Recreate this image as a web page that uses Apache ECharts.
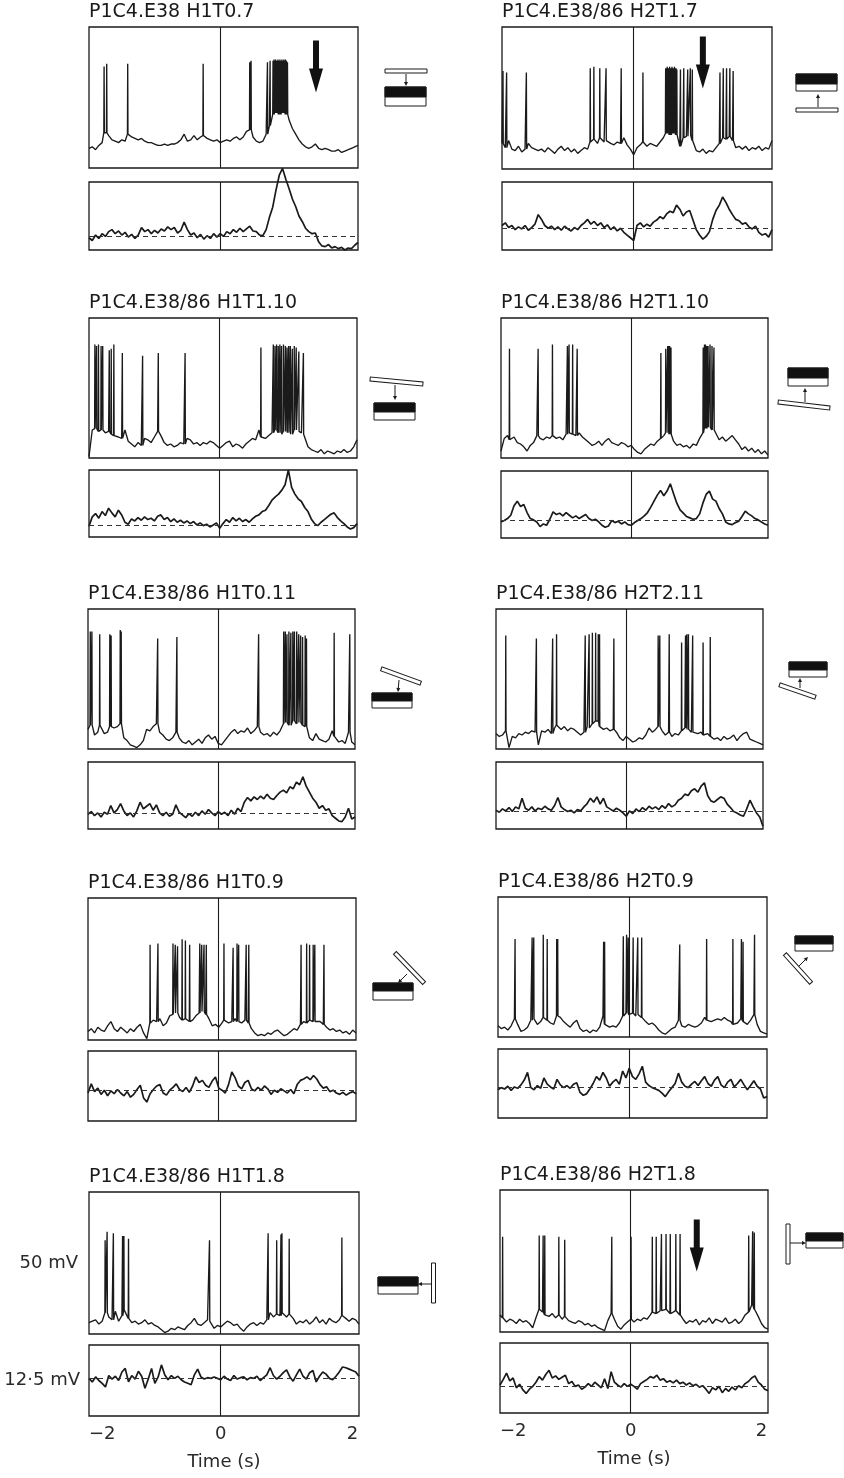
<!DOCTYPE html>
<html><head><meta charset="utf-8">
<script src="https://cdn.jsdelivr.net/npm/echarts@6/dist/echarts.min.js"></script>
<style>html,body{margin:0;padding:0;background:#fff}#c{width:844px;height:1478px}</style>
</head><body><div id="c"></div><script>
// sampling grid of every trace: t = -2 s + i * 0.05 s
const T0 = -2, DT = 0.05;
const xTicks = [-2, 0, 2];
const xTickLabels = ['\u22122', '0', '2'];
const axisTitle = 'Time (s)';
const scaleUpper = '50 mV';
const scaleLower = '12\u00b75 mV';

const titles = ['P1C4.E38 H1T0.7','P1C4.E38/86 H2T1.7','P1C4.E38/86 H1T1.10','P1C4.E38/86 H2T1.10',
  'P1C4.E38/86 H1T0.11','P1C4.E38/86 H2T2.11','P1C4.E38/86 H1T0.9','P1C4.E38/86 H2T0.9',
  'P1C4.E38/86 H1T1.8','P1C4.E38/86 H2T1.8'];

// ---- Panel A (H1T0.7)
const aUp = [14,15,13,16,18,25,23,20,19,18, 20,19,24,22,21,20,21,19,18,18, 17,16,16,17,16,17,17,18,20,24,
  19,20,23,20,22,23,21,20,19,20, 18,19,20,19,21,22,20,22,26,27, 22,19,18,19,24,30,38,39,38,39,
  38,34,28,24,20,17,15,14,15,17, 14,13,14,13,12,12,13,11,12,13, 14,15,16];
const aSp = [[-1.77,72],[-1.73,74],[-1.41,74],[-0.26,74],[0.45,75],[0.47,76],[0.72,75],[0.76,76],
  [0.805,76],[0.82,77],[0.835,76],[0.845,77],[0.865,76],[0.88,77],[0.895,76],[0.91,77],[0.925,76],
  [0.94,77],[0.955,76],[0.97,77],[0.985,76],[0.995,77],[1.01,76],[1.025,75]];
const aLo = [18,14,22,17,24,20,27,30,24,28, 22,26,19,23,17,22,33,27,30,24, 29,25,31,28,34,30,33,25,29,41,
  30,22,25,18,23,16,21,17,24,19, 24,20,27,24,30,26,32,27,31,35, 28,27,22,21,30,48,63,88,110,120,
  104,90,75,64,50,42,32,27,24,25, 12,6,5,8,3,5,2,4,0,3, 2,7,11];
const aBase = 20;

// ---- Panel B (H2T1.7)
const bUp = [18,15,20,14,13,16,12,14,18,15, 14,13,14,12,15,13,11,14,16,13, 15,12,14,11,13,15,14,19,21,18,
  22,19,20,18,17,19,18,22,17,14, 10,15,17,19,16,18,17,16,19,22, 25,24,25,24,16,22,23,24,20,13,
  12,14,11,13,12,15,18,22,21,23, 20,15,16,14,16,13,15,14,16,13, 15,14,20];
const bSp = [[-1.985,69],[-1.93,68],[-1.63,68],[-0.66,71],[-0.605,72],[-0.515,71],[-0.42,71],[-0.19,71],[0.14,68],
  [0.485,71],[0.497,71],[0.509,72],[0.521,71],[0.533,71],[0.545,72],[0.557,71],[0.569,71],[0.581,72],[0.593,71],
  [0.607,71],[0.619,72],[0.631,71],[0.643,71],[0.655,70],[0.71,70],[0.76,71],[0.82,70],[0.86,71],[0.89,70],
  [1.31,68],[1.36,71],[1.41,71],[1.46,71],[1.51,69]];
const bLo = [36,40,33,36,30,34,31,36,29,33, 38,52,45,36,32,35,30,34,29,35, 31,28,33,30,36,40,45,38,42,36,
  40,33,37,30,34,28,32,26,22,18, 14,36,40,34,38,35,41,44,49,46, 53,57,55,66,60,50,56,58,44,30,
  22,16,20,27,45,58,66,78,70,60, 52,45,43,38,40,34,31,35,26,22, 24,19,30];
const bBase = 32;

// ---- Panel C (H1T1.10)
const cUp = [1,20,21,19,20,18,19,17,16,15, 14,20,12,10,8,11,9,14,13,11, 15,19,16,11,9,10,8,9,11,10,
  14,13,10,11,9,11,10,12,11,9, 7,9,11,12,8,10,9,7,10,12, 14,13,20,15,14,16,18,20,18,17,
  19,18,17,20,19,18,17,8,6,5, 4,6,3,5,4,3,5,4,6,4, 5,8,13];
const cSp = [[-1.91,81],[-1.885,80],[-1.855,81],[-1.815,80],[-1.79,80],[-1.69,77],[-1.66,78],[-1.62,81],
  [-1.49,75],[-1.18,73],[-0.94,75],[-0.53,75],[0.63,79],[0.82,81],[0.845,80],[0.87,81],[0.895,80],[0.92,81],
  [0.945,80],[0.975,81],[1.005,80],[1.03,79],[1.055,80],[1.08,80],[1.11,78],[1.14,80],[1.17,79],[1.21,76],[1.28,75]];
const cLo = [16,30,35,28,38,32,43,36,30,40, 33,22,19,27,24,29,25,30,26,28, 24,31,33,26,29,23,27,22,25,21,
  24,20,23,18,21,17,19,15,18,21, 13,20,26,22,29,24,28,23,26,22, 27,31,33,38,40,47,55,60,64,70,
  78,100,74,64,57,53,44,38,27,20, 17,22,26,30,34,36,29,24,20,15, 12,14,20];
const cBase = 18;

// ---- Panel D (H2T1.10)
const dUp = [5,14,16,13,15,11,10,8,5,9, 11,16,14,13,15,14,16,14,15,13, 17,18,17,16,18,15,13,11,9,10,
  12,9,12,14,11,10,9,11,10,8, 9,6,4,3,6,8,10,9,12,14, 16,18,17,12,9,10,8,9,7,10,
  9,14,18,21,22,20,19,13,15,12, 14,16,13,10,6,8,5,7,4,6, 3,5,2];
const dSp = [[-1.87,78],[-1.43,78],[-1.21,81],[-0.98,80],[-0.955,81],[-0.9,81],[-0.83,78],[0.455,75],[0.53,78],
  [0.56,80],[0.575,80],[0.59,80],[0.61,79],[1.105,79],[1.125,81],[1.14,81],[1.16,80],[1.18,80],[1.21,81],[1.24,80],[1.27,79]];
const dLo = [24,26,29,34,48,55,47,50,38,29, 27,24,17,21,19,28,39,35,37,33, 38,34,30,33,29,32,35,29,26,28,
  24,19,16,18,26,23,25,21,24,20, 19,23,26,29,33,38,46,55,64,71, 63,70,81,66,52,42,37,32,30,28,
  29,36,52,65,70,58,55,44,36,24, 21,20,23,25,32,40,36,33,29,27, 24,21,19];
const dBase = 27;

// ---- Panel E (H1T0.11)
const eUp = [14,17,10,12,17,11,12,16,15,16, 18,8,6,3,2,1,3,6,14,13, 16,18,12,10,7,6,8,12,8,5,
  4,6,3,5,7,4,8,10,7,9, 4,3,6,9,12,14,11,13,12,15, 11,13,16,12,10,11,9,12,10,13,
  18,19,17,20,18,19,17,16,8,6, 11,7,6,5,7,13,9,5,6,4, 12,5,3];
const eSp = [[-1.965,84],[-1.94,84],[-1.82,82],[-1.665,82],[-1.645,81],[-1.505,85],[-1.49,84],[-0.93,79],[-0.635,80],
  [0.62,82],[1.005,84],[1.03,84],[1.055,82],[1.085,84],[1.115,83],[1.145,84],[1.17,84],[1.205,84],[1.235,82],
  [1.265,81],[1.295,80],[1.335,81],[1.355,79],[1.78,83],[2.02,82]];
const eLo = [22,26,20,24,18,25,22,35,24,29, 38,27,20,24,18,27,40,30,34,38, 28,36,24,20,25,19,22,36,25,21,
  17,23,19,25,20,27,22,29,24,20, 26,22,25,20,28,22,31,26,40,47, 42,48,44,49,45,52,46,44,50,55,
  58,54,63,60,70,66,78,64,55,46, 40,31,35,28,30,20,16,12,11,18, 31,15,18];
const eBase = 24;

// ---- Panel F (H2T2.11)
const fUp = [11,9,10,13,1,9,8,11,10,12, 11,13,12,3,13,12,14,11,15,17, 14,16,13,15,14,12,10,12,16,15,
  18,20,16,14,15,13,14,12,8,6, 9,7,5,6,8,7,10,15,12,14, 16,13,10,12,9,11,10,13,15,14,
  12,13,11,12,10,11,9,7,8,6, 9,7,8,10,6,9,11,12,7,6, 5,4,3];
const fSp = [[-1.85,81],[-1.38,79],[-1.13,79],[-1.07,82],[-0.63,81],[-0.57,82],[-0.52,83],[-0.47,83],[-0.43,82],
  [-0.41,82],[-0.19,79],[0.49,81],[0.515,81],[0.66,82],[0.85,76],[0.91,81],[0.93,82],[0.955,82],[1.02,81],[1.18,76],[1.29,80]];
const fLo = [28,25,30,27,32,26,33,30,46,31, 28,33,27,31,29,34,30,28,35,47, 33,29,26,28,24,29,27,33,38,46,
  40,48,37,46,33,30,27,31,28,24, 19,27,23,30,26,32,28,34,30,33, 29,35,31,38,33,36,43,46,52,50,
  57,60,55,64,69,50,42,40,44,48, 46,37,32,26,24,21,19,30,43,33, 24,18,4];
const fBase = 26;

// ---- Panel G (H1T0.9)
const gUp = [6,8,5,9,7,6,10,13,8,6, 9,7,5,8,6,9,11,5,1,12, 14,13,15,10,12,17,18,19,16,14,
  15,13,14,17,19,20,18,15,10,11, 9,12,14,12,13,15,13,12,14,12, 8,5,3,4,3,5,4,6,7,5,
  3,4,6,8,7,11,13,12,14,13, 12,13,11,9,7,8,6,7,5,6, 4,7,5];
const gSp = [[-1.05,67],[-0.93,68],[-0.7,68],[-0.665,67],[-0.63,66],[-0.56,71],[-0.51,70],[-0.445,67],[-0.29,68],
  [-0.26,67],[-0.225,67],[-0.19,67],[0.08,68],[0.22,65],[0.28,68],[0.305,67],[0.42,67],[0.46,67],[1.26,67],
  [1.345,68],[1.39,67],[1.445,67],[1.47,67],[1.61,67]];
const gLo = [40,53,42,47,38,44,36,43,39,45, 40,36,42,34,38,45,51,33,27,39, 45,50,52,40,37,44,48,53,45,42,
  48,41,50,63,55,58,51,48,57,63, 47,44,40,52,70,62,50,46,55,58, 46,43,48,44,50,46,38,44,41,46,
  43,40,45,39,52,58,60,63,59,65, 60,52,47,49,42,44,40,38,41,37, 40,42,39];
const gBase = 44;

// ---- Panel H (H2T0.9)
const hUp = [8,6,7,5,8,13,9,4,5,7, 12,13,9,11,14,12,10,9,15,14, 11,9,7,10,12,6,4,5,3,5,
  4,7,15,9,7,8,7,10,15,17, 16,17,15,16,14,11,9,10,8,5, 3,2,4,6,7,12,8,7,9,8,
  7,8,10,14,12,11,12,13,12,14, 12,11,9,10,13,11,9,12,16,9, 4,3,2];
const hSp = [[-1.74,70],[-1.48,71],[-1.455,71],[-1.31,73],[-1.25,70],[-1.105,70],[-1.09,70],[-0.39,68],[-0.375,68],
  [-0.09,72],[-0.04,73],[-0.015,71],[0.06,71],[0.13,71],[0.19,71],[0.77,66],[1.18,70],[1.58,70],[1.71,70],[1.735,68],[1.91,73]];
const hLo = [41,44,42,46,40,45,43,48,55,66, 44,41,47,43,58,49,45,42,56,48, 44,47,43,49,51,37,33,35,42,50,
  60,55,66,58,46,52,56,49,68,58, 72,60,56,64,75,52,47,44,42,40, 36,31,38,44,50,65,52,46,44,49,
  53,47,54,60,50,46,55,60,48,44, 52,56,45,50,56,48,41,47,54,46, 42,29,31];
const hBase = 45;

// ---- Panel I (H1T1.8)
const iUp = [8,9,10,7,9,15,12,10,16,9, 13,17,11,8,9,7,8,10,7,8, 6,5,3,1,2,4,3,5,4,3,
  6,8,11,7,6,8,10,9,4,6, 5,7,9,8,6,7,4,2,5,7, 8,6,8,7,10,15,12,14,13,15,
  12,14,11,7,9,8,10,7,9,12, 8,10,7,11,9,8,10,13,11,9, 11,10,7];
const iSp = [[-1.755,66],[-1.725,72],[-1.63,71],[-1.49,69],[-1.47,69],[-1.4,67],[-0.17,66],[0.72,71],[0.85,66],
  [0.915,70],[0.93,71],[1.04,67],[1.84,68]];
const iLo = [53,48,55,50,46,41,57,52,56,50, 62,67,48,57,52,63,56,39,52,67, 46,55,72,58,51,57,53,56,51,48,
  46,44,58,66,55,52,54,53,55,53, 51,56,52,50,57,52,54,55,51,54, 53,56,50,54,58,68,57,52,56,61,
  65,55,49,58,66,56,52,61,64,48, 56,62,59,53,51,56,62,69,68,66, 64,62,56];
const iBase = 53;

// ---- Panel J (H2T1.8)
const jUp = [12,10,7,9,8,6,9,7,8,6, 3,10,16,14,12,11,13,10,12,9, 11,8,7,6,8,7,5,6,4,5,
  3,2,1,8,13,9,4,2,5,7, 9,7,9,8,10,9,12,14,13,15, 14,16,13,14,15,12,9,6,8,7,
  9,5,8,7,10,6,9,8,7,10, 6,7,9,6,8,12,14,19,16,11, 6,3,2];
const jSp = [[-1.96,67],[-1.4,68],[-1.34,68],[-1.315,68],[-1.1,67],[-1.01,65],[-0.29,67],[0.005,67],[0.33,67],
  [0.39,67],[0.47,69],[0.54,69],[0.605,69],[0.69,69],[0.755,69],[1.805,68],[1.865,71],[1.89,70]];
const jLo = [40,48,57,46,50,36,41,33,28,34, 38,44,52,47,55,61,50,53,48,51, 54,42,45,38,40,34,37,42,38,44,
  40,36,49,35,59,44,40,37,42,38, 41,38,34,42,45,48,52,50,54,47, 49,44,46,43,47,42,44,40,43,39,
  41,37,39,34,28,36,33,38,29,35, 31,37,33,39,36,42,45,50,53,44, 40,34,32];
const jBase = 38;

// big response arrows [panel, time, level]
const arrowMarks = [[0, 1.46, 72], [1, 1.05, 75], [9, 1.01, 61]];

const ups = [aUp,bUp,cUp,dUp,eUp,fUp,gUp,hUp,iUp,jUp];
const sps = [aSp,bSp,cSp,dSp,eSp,fSp,gSp,hSp,iSp,jSp];
const los = [aLo,bLo,cLo,dLo,eLo,fLo,gLo,hLo,iLo,jLo];
const bases = [aBase,bBase,cBase,dBase,eBase,fBase,gBase,hBase,iBase,jBase];

// ---- layout (pixels)
const L = [
 {l:89,r:358,ut:27,ub:168,lt:182,lb:250},
 {l:502,r:772,ut:27,ub:169,lt:182,lb:250},
 {l:89,r:357,ut:318,ub:458,lt:470,lb:537},
 {l:501,r:768,ut:318,ub:458,lt:471,lb:538},
 {l:88,r:355,ut:609,ub:749,lt:762,lb:829},
 {l:496,r:763,ut:609,ub:749,lt:762,lb:829},
 {l:88,r:356,ut:898,ub:1040,lt:1051,lb:1121},
 {l:498,r:767,ut:897,ub:1037,lt:1049,lb:1118},
 {l:89,r:359,ut:1192,ub:1334,lt:1345,lb:1416},
 {l:500,r:768,ut:1190,ub:1332,lt:1343,lb:1413}
];
const icons = [
 {bx:385,by:87,bw:41,bh:19,bk:10, bar:[406,71,42,0], ar:[406,74,406,86]},
 {bx:796,by:74,bw:41,bh:17,bk:10, bar:[817,110,42,0], ar:[818,107,818,94]},
 {bx:374,by:403,bw:41,bh:17,bk:9, bar:[396.5,381.5,53,5.5], ar:[395,385,395,400]},
 {bx:788,by:368,bw:40,bh:18,bk:10, bar:[804,405,52,6.5], ar:[805,402,805,388]},
 {bx:372,by:693,bw:40,bh:15,bk:8, bar:[401,676,42,20], ar:[399,680,398,692]},
 {bx:789,by:662,bw:38,bh:15,bk:8, bar:[797.5,691,38,19], ar:[800,688,800,678]},
 {bx:373,by:983,bw:40,bh:17,bk:8, bar:[409.5,968,42,46], ar:[407,974,398,983]},
 {bx:795,by:936,bw:38,bh:15,bk:8, bar:[798,968.5,39,48], ar:[799,966,808,957]},
 {bx:378,by:1277,bw:40,bh:17,bk:9, bar:[433.5,1283,40,90], ar:[432,1284,418,1284]},
 {bx:806,by:1233,bw:37,bh:15,bk:8, bar:[788,1244,40,90], ar:[790,1243,806,1243]}
];

const FONT = 'DejaVu Sans';
const INK = '#1a1a1a';

function buildTrace(base, spikes){
  const pts = base.map((v,i)=>[+(T0+i*DT).toFixed(3), v]);
  spikes.forEach(([t,p])=>{
    const foot = base[Math.round((t-T0)/DT)];
    pts.push([t-0.004, foot],[t,p],[t+0.004, foot]);
  });
  pts.sort((a,b)=>a[0]-b[0]);
  return pts;
}

const grids=[], xAxes=[], yAxes=[], series=[], titleArr=[];
for (let k=0;k<10;k++){
  const g = L[k];
  const isBottom = k>=8;
  [[g.ut,g.ub],[g.lt,g.lb]].forEach(([t,b],j)=>{
    grids.push({left:g.l, top:t, width:g.r-g.l, height:b-t, show:true, borderColor:INK, borderWidth:1.3,
      backgroundColor:'transparent', containLabel:false, outerBoundsMode:'none'});
    const gi = grids.length-1;
    const showX = isBottom && j===1;
    xAxes.push({type:'value', gridIndex:gi, min:-2, max:2.1, interval:2, show:showX,
      axisLine:{show:false}, axisTick:{show:false}, splitLine:{show:false},
      axisLabel:{show:showX, fontSize:18, color:'#2a2a2a', fontFamily:FONT, margin:9,
        showMaxLabel:false, alignMinLabel:'left',
        formatter:v=>{const q=xTicks.indexOf(Math.round(v*1000)/1000); return q>=0?xTickLabels[q]:'';}},
      name: showX?axisTitle:'', nameLocation:'middle', nameGap:37,
      nameTextStyle:{fontSize:18, color:'#2a2a2a', fontFamily:FONT}});
    const yName = (k===8) ? (j===0?scaleUpper:scaleLower) : '';
    yAxes.push({type:'value', gridIndex:gi, min:0, max:100, show:k===8,
      axisLine:{show:false}, axisTick:{show:false}, splitLine:{show:false}, axisLabel:{show:false},
      name:yName, nameLocation:'middle', nameRotate:0, nameGap:j===0?11:9,
      nameTextStyle:{fontSize:18, color:'#2a2a2a', fontFamily:FONT}});
  });
  const gu = 2*k, gl = 2*k+1;
  const am = arrowMarks.filter(a=>a[0]===k).map(a=>({coord:[a[1],a[2]]}));
  series.push({type:'line', xAxisIndex:gu, yAxisIndex:gu, data:buildTrace(ups[k], sps[k]),
    showSymbol:false, symbol:'none', clip:false, silent:true, animation:false,
    lineStyle:{color:INK, width:1.35},
    markLine:{silent:true, symbol:'none', animation:false, label:{show:false},
      lineStyle:{color:INK, width:1.1, type:'solid'}, data:[{xAxis:0}]},
    markPoint: am.length ? {silent:true, animation:false,
      symbol:'path://M4,0L10,0L10,28L14,28L7,52L0,28L4,28Z', symbolSize:[14,52],
      itemStyle:{color:'#111'}, label:{show:false}, data:am} : undefined});
  series.push({type:'line', xAxisIndex:gl, yAxisIndex:gl,
    data:los[k].map((v,i)=>[+(T0+i*DT).toFixed(3), v]),
    showSymbol:false, symbol:'none', clip:false, silent:true, animation:false,
    lineStyle:{color:INK, width:1.7},
    markLine:{silent:true, symbol:'none', animation:false, label:{show:false},
      data:[{xAxis:0, lineStyle:{color:INK, width:1.1, type:'solid'}},
            {yAxis:bases[k], lineStyle:{color:'#333', width:1, type:[5,4]}}]}});
  titleArr.push({text:titles[k], left:g.l, top:g.ut-24, padding:0,
    textStyle:{fontSize:19, fontWeight:'normal', color:'#1a1a1a', fontFamily:FONT}});
}

// stimulus icons
const els = [];
icons.forEach(ic=>{
  els.push({type:'rect', silent:true, shape:{x:ic.bx,y:ic.by,width:ic.bw,height:ic.bh},
    style:{fill:'#fff', stroke:INK, lineWidth:1}});
  els.push({type:'rect', silent:true, shape:{x:ic.bx,y:ic.by,width:ic.bw,height:ic.bk},
    style:{fill:'#111', stroke:INK, lineWidth:1}});
  const [cx,cy,len,deg] = ic.bar;
  els.push({type:'rect', silent:true, x:cx, y:cy, rotation:-deg*Math.PI/180,
    shape:{x:-len/2, y:-2, width:len, height:4}, style:{fill:'#fff', stroke:INK, lineWidth:1}});
  const [x1,y1,x2,y2] = ic.ar;
  const a = Math.atan2(y2-y1, x2-x1), s = 4;
  const bx = x2 - s*Math.cos(a), by = y2 - s*Math.sin(a);
  els.push({type:'line', silent:true, shape:{x1,y1,x2:bx,y2:by}, style:{stroke:INK, lineWidth:1}});
  els.push({type:'polygon', silent:true, shape:{points:[[x2,y2],
    [bx + 2*Math.sin(a), by - 2*Math.cos(a)], [bx - 2*Math.sin(a), by + 2*Math.cos(a)]]},
    style:{fill:INK}});
});

const chart = echarts.init(document.getElementById('c'), null, {renderer:'canvas'});
chart.setOption({
  backgroundColor:'#fff', animation:false,
  title:titleArr, grid:grids, xAxis:xAxes, yAxis:yAxes, series:series,
  graphic:{elements:els}
});
</script></body></html>
